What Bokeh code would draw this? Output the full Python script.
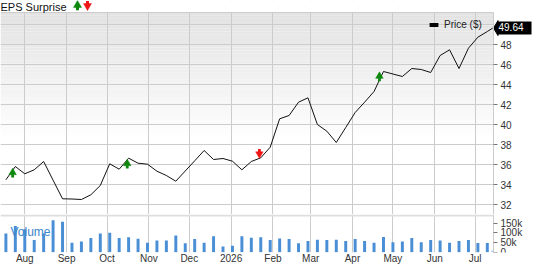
import pandas as pd
from bokeh.plotting import figure
from bokeh.models import Range1d, FixedTicker, Grid, Label, Legend, LegendItem, LinearAxis
from bokeh.layouts import column
from bokeh.embed import file_html
from bokeh.resources import INLINE
from bokeh.core.properties import value

# ---------------- data ----------------
week_dates = [
    "2025-07-18", "2025-07-25", "2025-08-01", "2025-08-08", "2025-08-15", "2025-08-22", "2025-08-29",
    "2025-09-05", "2025-09-12", "2025-09-19", "2025-09-26", "2025-10-03", "2025-10-10", "2025-10-17",
    "2025-10-24", "2025-10-31", "2025-11-07", "2025-11-14", "2025-11-21", "2025-11-28", "2025-12-05",
    "2025-12-12", "2025-12-19", "2025-12-26", "2026-01-02", "2026-01-09", "2026-01-16", "2026-01-23",
    "2026-01-30", "2026-02-06", "2026-02-13", "2026-02-20", "2026-02-27", "2026-03-06", "2026-03-13",
    "2026-03-20", "2026-03-27", "2026-04-03", "2026-04-10", "2026-04-17", "2026-04-24", "2026-05-01",
    "2026-05-08", "2026-05-15", "2026-05-22", "2026-05-29", "2026-06-05", "2026-06-12", "2026-06-19",
    "2026-06-26", "2026-07-03", "2026-07-10", "2026-07-14",
]
price = [
    34.47, 35.8, 35.07, 35.47, 36.3, 34.43, 32.57, 32.55, 32.5, 32.97, 33.9, 36.07, 35.53, 36.63,
    36.13, 36.03, 35.33, 34.9, 34.33, 35.35, 36.37, 37.4, 36.5, 36.6, 36.33, 35.47, 36.3, 36.67,
    37.73, 40.57, 40.9, 42.23, 42.67, 40.0, 39.33, 38.2, 39.7, 41.2, 42.23, 43.3, 45.3, 45.05,
    44.8, 45.6, 45.5, 45.2, 46.9, 47.47, 45.6, 47.63, 48.73, 49.3, 49.64,
]
volume_k = [
    97, 136, 119, 63, 97, 165, 157, 49, 55, 73, 97, 100, 73, 77, 70, 49, 60, 60, 87, 46,
    68, 49, 82, 29, 34, 82, 75, 77, 63, 71, 68, 46, 58, 65, 63, 65, 58, 68, 58, 49,
    79, 51, 55, 73, 51, 63, 60, 49, 58, 63, 48, 48, 9,
]
volume = [v * 1000 for v in volume_k]

eps_dates = ["2025-07-23", "2025-10-16", "2026-01-22", "2026-04-21"]
eps_price = [35.15, 36.05, 37.1, 44.78]
eps_beat = [True, True, False, True]

month_starts = ["2025-08-01", "2025-09-01", "2025-10-01", "2025-11-01", "2025-12-01", "2026-01-01",
                "2026-02-01", "2026-03-01", "2026-04-01", "2026-05-01", "2026-06-01", "2026-07-01"]
month_labels = ["Aug", "Sep", "Oct", "Nov", "Dec", "2026", "Feb", "Mar", "Apr", "May", "Jun", "Jul"]

price_ticks = [32, 34, 36, 38, 40, 42, 44, 46, 48]
price_grid = [32, 34, 36, 38, 40, 42, 44, 46, 48, 50]
vol_ticks = [0, 50000, 100000, 150000]
vol_tick_labels = ["0", "50k", "100k", "150k"]
last_price_text = "49.64"
title_text = "EPS Surprise"

# ---------------- style / layout constants ----------------
FONT = "Liberation Sans"
GRID = "#cccccc"
TXT = "#333333"
GREEN = "#0c870c"
RED = "#f01414"
W = 533            # canvas width
PLOT_W = 493       # width of the plotting area (axis labels live to its right)
PRICE_H = 214      # price canvas height (12 px title strip + 202 px plot)
PX_PER_UNIT = 10   # price panel: pixels per dollar


def ms(s):
    return pd.Timestamp(s).value // 10**6


dates = pd.to_datetime(week_dates)
month_ticks = [ms(d) for d in month_starts]
x_start, x_end = ms("2025-07-14"), ms("2026-07-14 14:00")
mpp = (x_end - x_start) / PLOT_W          # ms per pixel
x_full = x_start + W * mpp
x_range = Range1d(x_start, x_full)

P_LO, P_TOP = 31.0, 51.2                  # plot area bottom / top (price)
P_HI = P_TOP + 12 / PX_PER_UNIT           # include 12 px title strip
V_LO, V_HI = -1550, 195000
VPP = 5172                                # volume units per pixel

# ---------------- price panel ----------------
p = figure(x_range=x_range, y_range=Range1d(P_LO, P_HI), frame_width=W, frame_height=PRICE_H,
           x_axis_type="datetime", x_axis_location=None, y_axis_location=None,
           output_backend="svg", toolbar_location=None, min_border=0)
p.outline_line_color = None
p.grid.visible = False
p.background_fill_color = "white"

# background gradient in the plotting area
n = 40
g_bot = 38.5
step = (P_TOP - g_bot) / n
tops, bots, cols = [], [], []
for i in range(n):
    tops.append(P_TOP - i * step)
    bots.append(P_TOP - (i + 1) * step)
    c = int(0xe3 + (0xff - 0xe3) * i / (n - 1))
    cols.append("#%02x%02x%02x" % (c, c, c))
bg = p.quad(left=[x_start] * n, right=[x_end] * n, top=tops, bottom=bots, fill_color=cols, line_color=None)
bg.level = "image"

p.add_layout(Grid(dimension=0, ticker=FixedTicker(ticks=month_ticks), grid_line_color=GRID))
p.add_layout(Grid(dimension=1, ticker=FixedTicker(ticks=price_grid), grid_line_color=GRID))

# white covers: title strip and axis gutter
p.quad(left=[x_start], right=[x_full], bottom=[P_TOP], top=[P_HI], fill_color="white", line_color=None)
p.quad(left=[x_end], right=[x_full], bottom=[P_LO], top=[P_HI], fill_color="white", line_color=None)
p.segment(x0=[x_start], y0=[P_TOP], x1=[x_end], y1=[P_TOP], line_color=GRID, line_width=1)

price_line = p.line(dates, price, line_color="#111111", line_width=1)

# EPS surprise arrows (triangle head + stem)
HEAD_C, BASE, STEM = 0.05, 0.15, 0.45
up_x = pd.to_datetime([d for d, b in zip(eps_dates, eps_beat) if b])
up_y = [v for v, b in zip(eps_price, eps_beat) if b]
dn_x = pd.to_datetime([d for d, b in zip(eps_dates, eps_beat) if not b])
dn_y = [v for v, b in zip(eps_price, eps_beat) if not b]
p.segment(x0=up_x, y0=[v - BASE for v in up_y], x1=up_x, y1=[v - STEM for v in up_y],
          line_color=GREEN, line_width=2.8)
p.scatter(x=up_x, y=[v + HEAD_C for v in up_y], marker="triangle", size=7.5, fill_color=GREEN,
          line_color=GREEN, line_width=0.5)
p.segment(x0=dn_x, y0=[v + BASE for v in dn_y], x1=dn_x, y1=[v + STEM for v in dn_y],
          line_color=RED, line_width=2.8)
p.scatter(x=dn_x, y=[v - HEAD_C for v in dn_y], marker="inverted_triangle", size=7.5, fill_color=RED,
          line_color=RED, line_width=0.5)

# title strip: text + green up / red down arrows


def sx(px):
    return x_start + px * mpp


def sy(py):
    return P_HI - py / PX_PER_UNIT


p.text(x=[sx(0)], y=[sy(6.5)], text=[title_text], text_font=value(FONT), text_font_size="11px",
       text_baseline="middle", text_color="#111111")
p.scatter(x=[sx(77)], y=[sy(4.6)], marker="triangle", size=8, fill_color=GREEN, line_color=GREEN,
          line_width=0.5)
p.segment(x0=[sx(77)], y0=[sy(6.5)], x1=[sx(77)], y1=[sy(9.8)], line_color=GREEN, line_width=3)
p.scatter(x=[sx(87)], y=[sy(5.4)], marker="inverted_triangle", size=8, fill_color=RED, line_color=RED,
          line_width=0.5)
p.segment(x0=[sx(87)], y0=[sy(0.4)], x1=[sx(87)], y1=[sy(3.6)], line_color=RED, line_width=3)

# legend
swatch = p.rect(x=dates, y=price, width=0, height=0, fill_color="black", line_color=None)
legend = Legend(items=[LegendItem(label="Price ($)", renderers=[swatch])], location=(428, 184),
                border_line_color=None, background_fill_alpha=0, label_text_font=FONT,
                label_text_font_size="10px", label_text_color="#222222", padding=0, margin=0,
                glyph_width=11, glyph_height=5, label_height=12, label_standoff=5)
p.add_layout(legend)

# right price axis, drawn at the right edge of the plotting area
ay = LinearAxis(fixed_location=x_end, ticker=FixedTicker(ticks=price_ticks), bounds=(P_LO, P_TOP))
ay.axis_line_color = GRID
ay.major_tick_line_color = "#777777"
ay.major_tick_in = 0
ay.major_tick_out = 4
ay.minor_tick_line_color = None
ay.major_label_standoff = 3
ay.major_label_text_font = FONT
ay.major_label_text_font_size = "10px"
ay.major_label_text_color = TXT
p.add_layout(ay, "right")

# last price flag
p.patch(x=[x_end, x_end + 4.5 * mpp, x_end + 4.5 * mpp],
        y=[price[-1], price[-1] + 0.75, price[-1] - 0.75], fill_color="black", line_color="black")
p.add_layout(Label(x=x_end, y=price[-1], x_offset=4, text=last_price_text, text_font=FONT,
                   text_font_size="10px", text_baseline="middle", text_color="white",
                   background_fill_color="black", padding=(1, 8, 1, 4)))

# ---------------- volume panel ----------------
pv = figure(x_range=x_range, y_range=Range1d(V_LO, V_HI), frame_width=W, frame_height=38,
            x_axis_type="datetime", y_axis_location=None,
            output_backend="svg", toolbar_location=None, min_border=0)
pv.outline_line_color = None
pv.grid.visible = False
pv.add_layout(Grid(dimension=0, ticker=FixedTicker(ticks=month_ticks), grid_line_color=GRID))

bar_cols = ["#4a8fd6"] * (len(volume) - 1) + ["#a9cbef"]
pv.vbar(x=dates, top=volume, width=2.2 * 86400000, fill_color=bar_cols, line_color=None)
# separator band between the two panels
pv.quad(left=[x_start], right=[x_end], top=[V_HI], bottom=[V_HI - 2 * VPP], fill_color="#dedede",
        line_color=None)

pv.add_layout(Label(x=x_start, x_offset=10, y=V_HI, y_offset=-17, text="Volume", text_font=FONT,
                    text_font_size="12px", text_baseline="alphabetic", text_color="#3a86c8"))

ax = pv.xaxis[0]
ax.ticker = FixedTicker(ticks=month_ticks)
ax.major_label_overrides = {t: l for t, l in zip(month_ticks, month_labels)}
ax.axis_line_color = None
ax.major_tick_line_color = None
ax.minor_tick_line_color = None
ax.major_tick_out = 0
ax.major_tick_in = 0
ax.major_label_standoff = 0
ax.major_label_text_font = FONT
ax.major_label_text_font_size = "10px"
ax.major_label_text_color = TXT

av = LinearAxis(fixed_location=x_end, ticker=FixedTicker(ticks=vol_ticks))
av.major_label_overrides = {t: l for t, l in zip(vol_ticks, vol_tick_labels)}
av.axis_line_color = GRID
av.major_tick_line_color = "#777777"
av.major_tick_in = 0
av.major_tick_out = 4
av.minor_tick_line_color = None
av.major_label_standoff = 3
av.major_label_text_font = FONT
av.major_label_text_font_size = "10px"
av.major_label_text_color = TXT
pv.add_layout(av, "right")

layout = column(p, pv, spacing=0)
open("out.html", "w").write(file_html(layout, INLINE))
